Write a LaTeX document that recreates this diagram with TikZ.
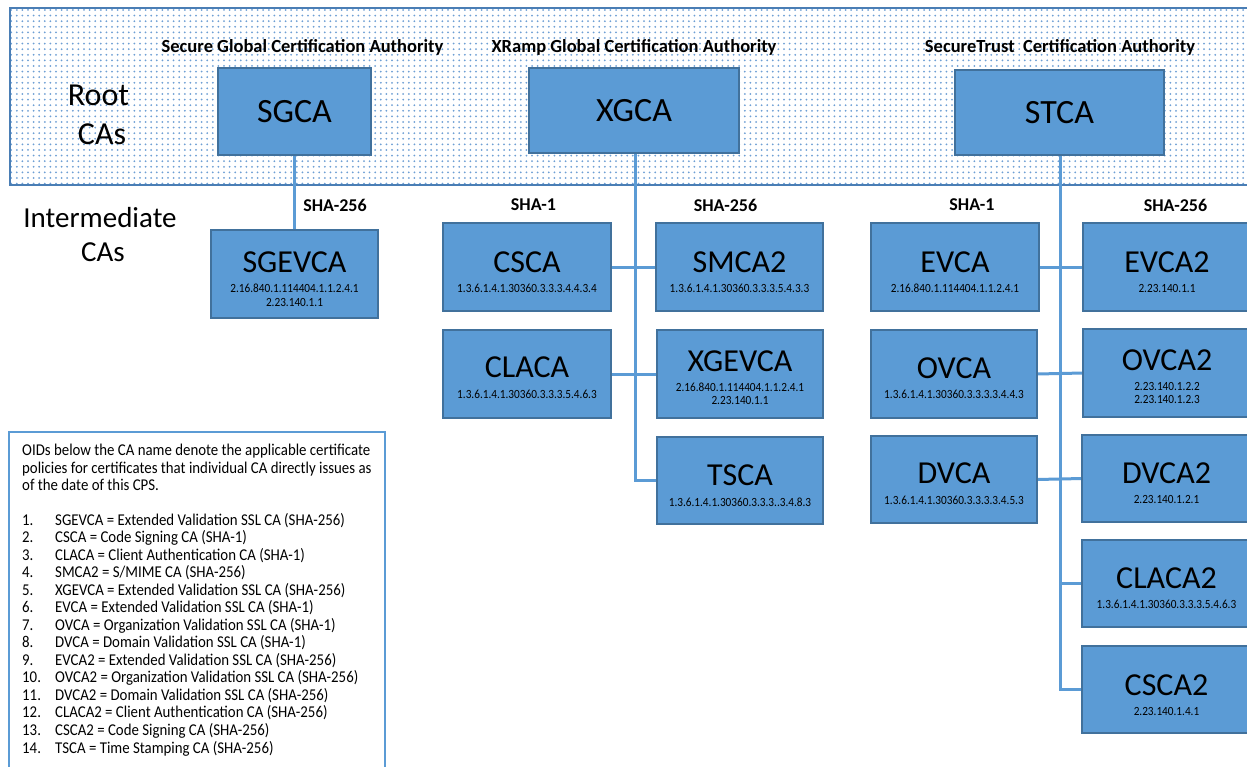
\documentclass[tikz,border=0pt]{standalone}
\usepackage{fontspec}
\setmainfont{Carlito}
\newfontfamily\narrowfont[FakeStretch=0.9]{Carlito}
\usetikzlibrary{patterns.meta}
\definecolor{boxfill}{HTML}{5B9BD5}
\definecolor{boxline}{HTML}{41719C}
\definecolor{connline}{HTML}{5B9BD5}
\definecolor{dotcol}{HTML}{6E9FD4}
\definecolor{bandline}{HTML}{4A7EB5}
\newcommand\cabx[5]{\node[cabox, minimum width={#4-#2}, minimum height={#5-#3}] (#1) at ({(#2+#4)/2},{(#3+#5)/2}) {};}
\begin{document}
\begin{tikzpicture}[x=1pt,y=-1pt,
  cabox/.style={draw=boxline, fill=boxfill, line width=1.4pt, inner sep=0pt, outer sep=0pt},
  conn/.style={draw=connline, line width=3pt},
  rootname/.style={font=\fontsize{34}{38}\selectfont, inner sep=0pt},
  caname/.style={font=\fontsize{32}{36}\selectfont, inner sep=0pt},
  oid/.style={font=\narrowfont\fontsize{12.5}{14}\selectfont, inner sep=0pt},
  hdr/.style={font=\bfseries\fontsize{18}{20}\selectfont, inner sep=0pt},
  title/.style={font=\bfseries\fontsize{18.5}{20}\selectfont, inner sep=0pt, anchor=base},
  lvl/.style={inner sep=0pt},
  leg/.style={font=\narrowfont\fontsize{16.5}{18}\selectfont, anchor=base west, inner sep=0pt}]
\useasboundingbox (0,0) rectangle (1247,766);
\clip (0,0) rectangle (1247,766);
\fill[white] (0,0) rectangle (1247,766);
% root band
\path[pattern={Dots[distance=5.6pt, radius=1pt]}, pattern color=dotcol] (10,8) rectangle (1262,185);
\draw[bandline, line width=1.8pt] (10,8) rectangle (1262,185);
% level labels
\node[lvl, font=\fontsize{32}{36}\selectfont] (rootl) at (98.5,95.5) {Root};
\node[lvl, font=\fontsize{32}{36}\selectfont] (rootc) at (102,134.5) {CAs};
\node[lvl, font=\fontsize{29}{33}\selectfont] (intl) at (100,217.5) {Intermediate};
\node[lvl, font=\fontsize{29}{33}\selectfont] (intc) at (103,252.5) {CAs};
% titles
\node[title] (t1) at (302.5,52.7) {Secure Global Certification Authority};
\node[title] (t2) at (634,52.7) {XRamp Global Certification Authority};
\node[title] (t3) at (1060,52.7) {SecureTrust\ \ Certification Authority};
% hash headers
\node[hdr] (h1) at (335,205) {SHA-256};
\node[hdr] (h2) at (533.5,205) {SHA-1};
\node[hdr] (h3) at (725.5,205) {SHA-256};
\node[hdr] (h4) at (972,205) {SHA-1};
\node[hdr] (h5) at (1175.5,205) {SHA-256};
% boxes
\cabx{sgca}{218}{68}{371}{155}
\cabx{xgca}{529}{68}{739}{153}
\cabx{stca}{955}{70}{1164}{155}
\cabx{sgevca}{211}{230}{378}{318}
\cabx{csca}{443}{223}{611}{311}
\cabx{claca}{443}{330}{611}{418}
\cabx{smca}{656}{223}{823}{311}
\cabx{xgevca}{657}{330}{823}{418}
\cabx{tsca}{657}{437}{823}{524}
\cabx{evca}{871}{223}{1039}{311}
\cabx{ovca}{871}{330}{1037}{418}
\cabx{dvca}{871}{436}{1037}{523}
\cabx{evcb}{1083}{223}{1251}{311}
\cabx{ovcb}{1083}{329}{1251}{417}
\cabx{dvcb}{1082}{435}{1251}{522}
\cabx{clacb}{1082}{540}{1251}{627}
\cabx{cscb}{1082}{646}{1251}{733}
% connectors
\draw[conn] (sgca.south) -- (sgevca.north);
\draw[conn] ([xshift=1pt]xgca.south) |- (tsca.west);
\draw[conn] (csca.east) -- (smca.west);
\draw[conn] (claca.east) -- (xgevca.west);
\draw[conn] ([xshift=0.5pt]stca.south) |- (cscb.west);
\draw[conn] (evca.east) -- (evcb.west);
\draw[conn] (ovca.east) -- (ovcb.west);
\draw[conn] (dvca.east) -- (dvcb.west);
\draw[conn] ([xshift=0.5pt]stca.south |- clacb.west) -- (clacb.west);
% redraw box outlines over connector ends
\foreach \b in {sgca,xgca,stca,sgevca,csca,claca,smca,xgevca,tsca,evca,ovca,dvca,evcb,ovcb,dvcb,clacb,cscb}{
  \draw[boxline, line width=1.4pt] (\b.north west) rectangle (\b.south east);
}
% root names
\node[rootname] (n1) at (sgca.center) {SGCA};
\node[rootname] (n2) at (xgca.center) {XGCA};
\node[rootname] (n3) at (stca.center) {STCA};
% intermediate names and OIDs
\node[caname] (n4) at ([yshift=12pt]sgevca.center) {SGEVCA};
\node[oid] (o4a) at ([yshift=-14pt]sgevca.center) {2.16.840.1.114404.1.1.2.4.1};
\node[oid] (o4b) at ([yshift=-28pt]sgevca.center) {2.23.140.1.1};
\node[caname] (n5) at ([yshift=5pt]csca.center) {CSCA};
\node[oid] (o5) at ([yshift=-21pt]csca.center) {1.3.6.1.4.1.30360.3.3.3.4.4.3.4};
\node[caname] (n6) at ([yshift=7pt]claca.center) {CLACA};
\node[oid] (o6) at ([yshift=-20pt]claca.center) {1.3.6.1.4.1.30360.3.3.3.5.4.6.3};
\node[caname] (n7) at ([yshift=5pt]smca.center) {SMCA2};
\node[oid] (o7) at ([yshift=-21pt]smca.center) {1.3.6.1.4.1.30360.3.3.3.5.4.3.3};
\node[caname] (n8) at ([yshift=13pt]xgevca.center) {XGEVCA};
\node[oid] (o8a) at ([yshift=-13pt]xgevca.center) {2.16.840.1.114404.1.1.2.4.1};
\node[oid] (o8b) at ([yshift=-26pt]xgevca.center) {2.23.140.1.1};
\node[caname] (n9) at ([yshift=5.5pt]tsca.center) {TSCA};
\node[oid] (o9) at ([yshift=-21.5pt]tsca.center) {1.3.6.1.4.1.30360.3.3.3..3.4.8.3};
\node[caname] (n10) at ([yshift=5pt]evca.center) {EVCA};
\node[oid] (o10) at ([yshift=-21pt]evca.center) {2.16.840.1.114404.1.1.2.4.1};
\node[caname] (n11) at ([yshift=6pt]ovca.center) {OVCA};
\node[oid] (o11) at ([yshift=-20.5pt]ovca.center) {1.3.6.1.4.1.30360.3.3.3.3.4.4.3};
\node[caname] (n12) at ([yshift=6.5pt]dvca.center) {DVCA};
\node[oid] (o12) at ([yshift=-20.5pt]dvca.center) {1.3.6.1.4.1.30360.3.3.3.3.4.5.3};
\node[caname] (n13) at ([yshift=4.5pt]evcb.center) {EVCA2};
\node[oid] (o13) at ([yshift=-21pt]evcb.center) {2.23.140.1.1};
\node[caname] (n14) at ([yshift=13pt]ovcb.center) {OVCA2};
\node[oid] (o14a) at ([yshift=-13pt]ovcb.center) {2.23.140.1.2.2};
\node[oid] (o14b) at ([yshift=-26pt]ovcb.center) {2.23.140.1.2.3};
\node[caname] (n15) at ([yshift=5.5pt]dvcb.center) {DVCA2};
\node[oid] (o15) at ([yshift=-20.5pt]dvcb.center) {2.23.140.1.2.1};
\node[caname] (n16) at ([yshift=5.5pt]clacb.center) {CLACA2};
\node[oid] (o16) at ([yshift=-20.5pt]clacb.center) {1.3.6.1.4.1.30360.3.3.3.5.4.6.3};
\node[caname] (n17) at ([yshift=4.5pt]cscb.center) {CSCA2};
\node[oid] (o17) at ([yshift=-21.5pt]cscb.center) {2.23.140.1.4.1};
% legend
\draw[connline, line width=1.2pt] (9,432) rectangle (385,790);
\node[leg] (p1) at (22,455.5) {OIDs below the CA name denote the applicable certificate};
\node[leg] (p2) at (22,473.1) {policies for certificates that individual CA directly issues as};
\node[leg] (p3) at (22,490.7) {of the date of this CPS.};
\foreach \i/\t in {1/{SGEVCA = Extended Validation SSL CA (SHA-256)},
  2/{CSCA = Code Signing CA (SHA-1)},
  3/{CLACA = Client Authentication CA (SHA-1)},
  4/{SMCA2 = S/MIME CA (SHA-256)},
  5/{XGEVCA = Extended Validation SSL CA (SHA-256)},
  6/{EVCA = Extended Validation SSL CA (SHA-1)},
  7/{OVCA = Organization Validation SSL CA (SHA-1)},
  8/{DVCA = Domain Validation SSL CA (SHA-1)},
  9/{EVCA2 = Extended Validation SSL CA (SHA-256)},
  10/{OVCA2 = Organization Validation SSL CA (SHA-256)},
  11/{DVCA2 = Domain Validation SSL CA (SHA-256)},
  12/{CLACA2 = Client Authentication CA (SHA-256)},
  13/{CSCA2 = Code Signing CA (SHA-256)},
  14/{TSCA = Time Stamping CA (SHA-256)}}{
  \node[leg] (ln\i) at (22,{525+(\i-1)*17.54}) {\i.};
  \node[leg] (lt\i) at (55,{525+(\i-1)*17.54}) {\t};
}
\end{tikzpicture}
\end{document}
